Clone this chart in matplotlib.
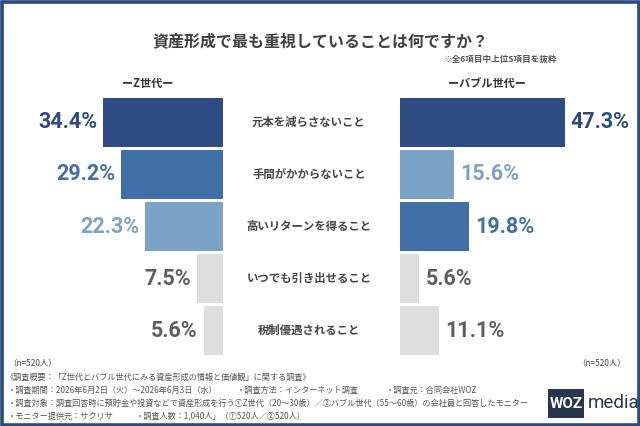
import matplotlib
matplotlib.use("Agg")
import matplotlib.pyplot as plt
from matplotlib import font_manager
from matplotlib.patches import Rectangle
from matplotlib.transforms import blended_transform_factory

# data
items = ["元本を減らさないこと", "手間がかからないこと", "高いリターンを得ること",
         "いつでも引き出せること", "税制優遇されること"]
gen_z = [34.4, 29.2, 22.3, 7.5, 5.6]
bubble = [47.3, 15.6, 19.8, 5.6, 11.1]

NAVY = "#2f4c82"
MID = "#4170a8"
LIGHT = "#7ba3c7"
GRAY = "#dedede"
GRAY_TXT = "#5e5e5e"

# colour by rank (top 3 coloured, rest gray)
def rank_colors(vals):
    order = sorted(range(len(vals)), key=lambda i: -vals[i])
    bar_c = [GRAY] * len(vals)
    txt_c = [GRAY_TXT] * len(vals)
    for r, i in enumerate(order[:3]):
        bar_c[i] = [NAVY, MID, LIGHT][r]
        txt_c[i] = [NAVY, MID, LIGHT][r]
    return bar_c, txt_c

JP = ["Noto Sans CJK JP", "DejaVu Sans"]
plt.rcParams["font.family"] = JP


def pick_font(names):
    for n in names:
        try:
            font_manager.findfont(n, fallback_to_default=False)
            return n
        except Exception:
            pass
    return "DejaVu Sans"


NUMF = pick_font(["Liberation Sans Narrow", "Roboto", "DejaVu Sans"])

W, H = 640, 426
fig = plt.figure(figsize=(W / 100, H / 100), dpi=100)
fig.patch.set_facecolor("white")


def fx(px):
    return px / W


def fy(py):
    return 1 - py / H


# frame
fig.add_artist(Rectangle((fx(1.5), fy(424.5)), fx(637), 1 - 3 / H, transform=fig.transFigure,
                         fill=False, edgecolor="#2b4a7a", linewidth=2.6))

# axes geometry (pixels)
scale = 3.48
span = 50
top, bottom = 98, 355
pitch = (bottom - top) / 4.94
ax_h = 4.94 * pitch
axL = fig.add_axes([fx(223 - span * scale), fy(bottom), fx(span * scale), ax_h / H])
axR = fig.add_axes([fx(400), fy(bottom), fx(span * scale), ax_h / H])

y = list(range(len(items)))
cz, tz = rank_colors(gen_z)
cb, tb = rank_colors(bubble)

axL.barh(y, gen_z, height=0.94, color=cz)
axR.barh(y, bubble, height=0.94, color=cb)
axL.set_xlim(span, 0)
axR.set_xlim(0, span)
for ax in (axL, axR):
    ax.set_ylim(4.47, -0.47)
    ax.axis("off")

for i, v in enumerate(gen_z):
    axL.annotate(f"{v}%", (v, i), xytext=(-4.5, 0), textcoords="offset points",
                 ha="right", va="center", fontsize=15.5, fontweight="bold",
                 family=NUMF, color=tz[i])
for i, v in enumerate(bubble):
    axR.annotate(f"{v}%", (v, i), xytext=(4.5, 0), textcoords="offset points",
                 ha="left", va="center", fontsize=15.5, fontweight="bold",
                 family=NUMF, color=tb[i])

tr = blended_transform_factory(fig.transFigure, axL.transData)
for i, lab in enumerate(items):
    axL.text(fx(309), i, lab, transform=tr, ha="center", va="center",
             fontsize=8.2, fontweight="bold", color="#444444", clip_on=False)

# titles
fig.text(fx(320), fy(41), "資産形成で最も重視していることは何ですか？", ha="center", va="center",
         fontsize=11.5, fontweight="bold", color="#404040")
fig.text(fx(557), fy(59), "※全6項目中上位5項目を抜粋", ha="right", va="center",
         fontsize=6.2, fontweight="bold", color="#555555")
fig.text(fx(148), fy(83), "ーZ世代ー", ha="center", va="center",
         fontsize=8, fontweight="bold", color="#333333")
fig.text(fx(487), fy(83), "ーバブル世代ー", ha="center", va="center",
         fontsize=8, fontweight="bold", color="#333333")

# sample size
fig.text(fx(8), fy(363), "（n=520人）", ha="left", va="center", fontsize=6, color="#444444")
fig.text(fx(626), fy(363), "（n=520人）", ha="right", va="center", fontsize=6, color="#444444")

# footer
foot = dict(ha="left", va="center", fontsize=5.9, color="#555555")
fig.text(fx(6), fy(377), "《調査概要：「Z世代とバブル世代にみる資産形成の情報と価値観」に関する調査》", **foot)
fig.text(fx(8), fy(390), "・調査期間：2026年6月2日（火）～2026年6月3日（水）", **foot)
fig.text(fx(237), fy(390), "・調査方法：インターネット調査", **foot)
fig.text(fx(386), fy(390), "・調査元：合同会社WOZ", **foot)
fig.text(fx(8), fy(403), "・調査対象：調査回答時に預貯金や投資などで資産形成を行う①Z世代（20～30歳）／②バブル世代（55～60歳）の会社員と回答したモニター", **foot)
fig.text(fx(8), fy(416), "・モニター提供元：サクリサ", **foot)
fig.text(fx(136), fy(416), "・調査人数：1,040人」（①520人／②520人）", **foot)

# logo
fig.add_artist(Rectangle((fx(548), fy(418)), fx(36), 29 / H, transform=fig.transFigure,
                         facecolor="#27364d", edgecolor="none"))
fig.text(fx(566), fy(404), "WOZ", ha="center", va="center", fontsize=11,
         fontweight="bold", family=NUMF, color="white")
fig.text(fx(588), fy(403), "media", ha="left", va="center", fontsize=13.5,
         family=NUMF, color="#27364d")

fig.savefig("out.png", dpi=100)
